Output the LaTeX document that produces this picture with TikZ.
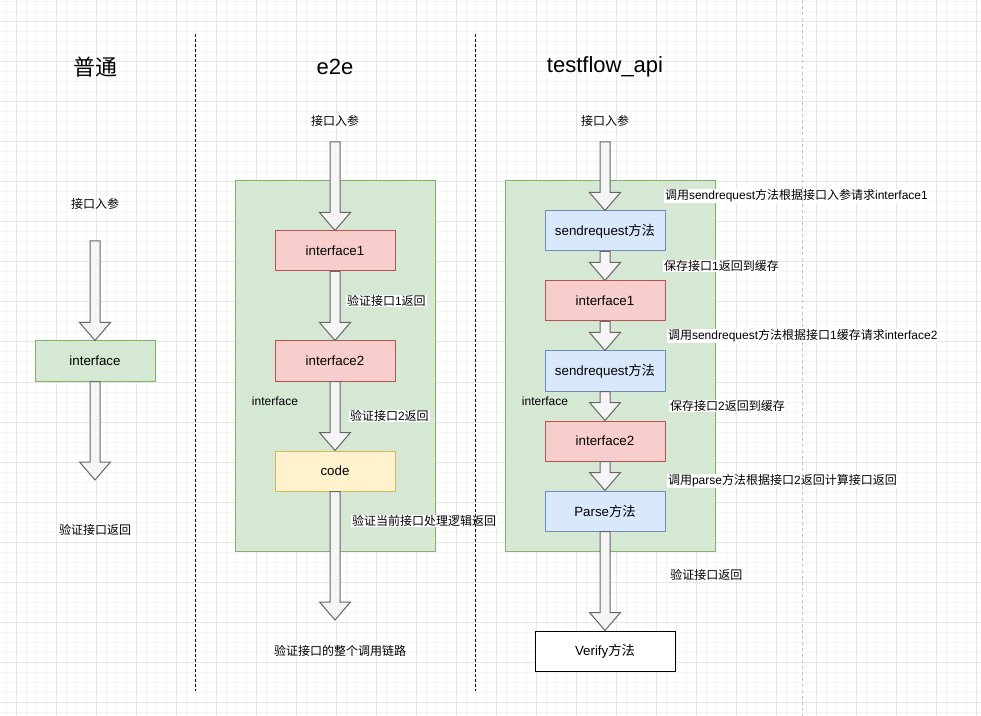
\documentclass[tikz,border=0pt]{standalone}
\usepackage{fontspec}
\setmainfont{Liberation Sans}
\newfontfamily\cjk{Noto Sans CJK SC}
\newcommand{\zh}[1]{{\cjk #1}}
\usetikzlibrary{calc,positioning}

\definecolor{gridmajor}{HTML}{E6E6E6}
\definecolor{gridminor}{HTML}{F5F5F5}
\definecolor{greenfill}{HTML}{D5E8D4}
\definecolor{greenline}{HTML}{82B366}
\definecolor{redfill}{HTML}{F8CECC}
\definecolor{redline}{HTML}{B85450}
\definecolor{bluefill}{HTML}{DAE8FC}
\definecolor{blueline}{HTML}{6C8EBF}
\definecolor{yellowfill}{HTML}{FFF2CC}
\definecolor{yellowline}{HTML}{D6B656}
\definecolor{arrowfill}{HTML}{F5F5F5}
\definecolor{arrowline}{HTML}{666666}

\tikzset{
  stepbox/.style={draw, line width=0.75pt, minimum width=90pt, minimum height=30pt, inner sep=0pt},
  ifbox/.style={stepbox, fill=redfill, draw=redline},
  sendbox/.style={stepbox, fill=bluefill, draw=blueline},
  codebox/.style={stepbox, fill=yellowfill, draw=yellowline},
  flow/.style={fill=arrowfill, draw=arrowline, line width=0.75pt},
  container/.style={fill=greenfill, draw=greenline, line width=0.75pt},
  txt/.style={inner sep=0pt, font=\fontsize{9}{11}\selectfont},
  note/.style={txt, fill=white, inner sep=0.6pt, anchor=west},
  title/.style={inner sep=0pt, font=\fontsize{16.5}{20}\selectfont},
}

% fat draw.io style arrow, always vertical, from #1 down to #2
\newcommand{\flowarrow}[2]{%
  \filldraw[flow] let \p1=(#1), \p2=(#2) in
    (\x1-3.75pt,\y1) -- (\x1-3.75pt,\y2+13.5pt) -- (\x1-11.6pt,\y2+13.5pt)
    -- (\x1,\y2) -- (\x1+11.6pt,\y2+13.5pt) -- (\x1+3.75pt,\y2+13.5pt)
    -- (\x1+3.75pt,\y1) -- cycle;}

\begin{document}
\begin{tikzpicture}[x=0.75pt,y=-0.75pt]
  \useasboundingbox (0,0) rectangle (981,716);
  \fill[white] (0,0) rectangle (981,716);

  % 1) background grid
  \foreach \x in {6,16,...,976}
    \draw[gridminor, line width=0.75pt] (\x,0) -- (\x,716);
  \foreach \y in {2,12,...,712}
    \draw[gridminor, line width=0.75pt] (0,\y) -- (981,\y);
  \foreach \x in {16,56,...,976}
    \draw[gridmajor, line width=0.75pt] (\x,0) -- (\x,716);
  \foreach \y in {22,62,...,702}
    \draw[gridmajor, line width=0.75pt] (0,\y) -- (981,\y);

  % 2) green containers
  \draw[container] (235,181) rectangle (435,551);
  \draw[container] (505,181) rectangle (715,551);

  % titles
  \node[title] (ntitle) at (95,67)  {\zh{普通}};
  \node[title] (etitle) at (335,67) {e2e};
  \node[title] (ttitle) at (605,67) {testflow\_api};

  % 3) left column
  \node[txt] (nin) at (95,204) {\zh{接口入参}};
  \coordinate (na0) at (95,241);
  \node[stepbox, fill=greenfill, draw=greenline] (nbox) at (95,361) {interface};
  \coordinate (na1) at (95,480);
  \node[txt] (nout) at (95,530) {\zh{验证接口返回}};
  \flowarrow{na0}{nbox.north}
  \flowarrow{nbox.south}{na1}

  % 4) e2e column
  \node[txt] (ein) at (335,121) {\zh{接口入参}};
  \coordinate (ea0) at (335,142);
  \node[ifbox]   (eif1)  at (335,251) {interface1};
  \node[ifbox]   (eif2)  at (335,361) {interface2};
  \node[codebox] (ecode) at (335,471) {code};
  \coordinate (ea1) at (335,620);
  \flowarrow{ea0}{eif1.north}
  \flowarrow{eif1.south}{eif2.north}
  \flowarrow{eif2.south}{ecode.north}
  \flowarrow{ecode.south}{ea1}
  \node[txt] (elbl) at (275,401) {interface};
  \node[note] (ev1) at (346,301) {\zh{验证接口}1\zh{返回}};
  \node[note] (ev2) at (349,416) {\zh{验证接口}2\zh{返回}};
  \node[note] (ev3) at (351,521) {\zh{验证当前接口处理逻辑返回}};
  \node[txt] (eout) at (340,651) {\zh{验证接口的整个调用链路}};

  % 5) testflow_api column
  \node[txt] (tin) at (605,121) {\zh{接口入参}};
  \coordinate (ta0) at (605,142);
  \node[sendbox] (ts1)  at (605,231) {sendrequest\zh{方法}};
  \node[ifbox]   (tif1) at (605,301) {interface1};
  \node[sendbox] (ts2)  at (605,371) {sendrequest\zh{方法}};
  \node[ifbox]   (tif2) at (605,441) {interface2};
  \node[sendbox] (tpar) at (605,511) {Parse\zh{方法}};
  \node[stepbox, fill=white, draw=black, minimum width=105pt] (tver) at (605,651) {Verify\zh{方法}};
  \flowarrow{ta0}{ts1.north}
  \flowarrow{ts1.south}{tif1.north}
  \flowarrow{tif1.south}{ts2.north}
  \flowarrow{ts2.south}{tif2.north}
  \flowarrow{tif2.south}{tpar.north}
  \flowarrow{tpar.south}{tver.north}
  \node[txt] (tlbl) at (545,401) {interface};
  \node[note] (tn1) at (664,196) {\zh{调用}sendrequest\zh{方法根据接口入参请求}interface1};
  \node[note] (tn2) at (663,266) {\zh{保存接口}1\zh{返回到缓存}};
  \node[note] (tn3) at (667,336) {\zh{调用}sendrequest\zh{方法根据接口}1\zh{缓存请求}interface2};
  \node[note] (tn4) at (669,406) {\zh{保存接口}2\zh{返回到缓存}};
  \node[note] (tn5) at (667,481) {\zh{调用}parse\zh{方法根据接口}2\zh{返回计算接口返回}};
  \node[txt, anchor=west] (tout) at (670,575) {\zh{验证接口返回}};

  % 6) separators
  \draw[line width=0.75pt, dash pattern=on 2.25pt off 1.5pt] (195,34) -- (195,691);
  \draw[line width=0.75pt, dash pattern=on 2.25pt off 1.5pt] (475,34) -- (475,691);
  \draw[gray!50, line width=0.75pt, dash pattern=on 2.25pt off 2.25pt] (802,0) -- (802,716);
\end{tikzpicture}
\end{document}
